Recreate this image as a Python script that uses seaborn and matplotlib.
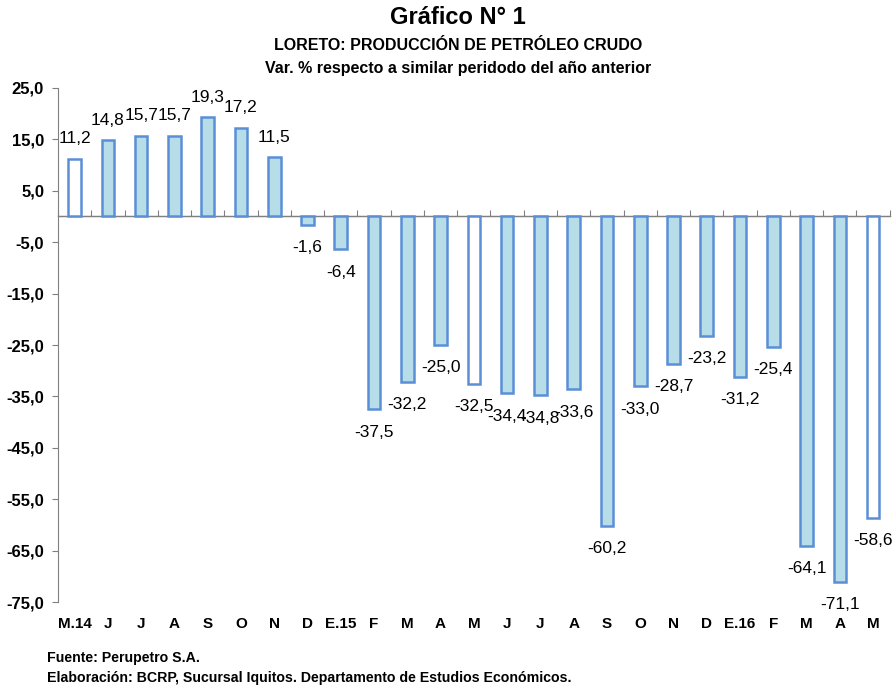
import matplotlib
matplotlib.use('Agg')
import matplotlib.pyplot as plt
import numpy as np
import pandas as pd
import seaborn as sns

# datos
meses = ['M.14', 'J', 'J', 'A', 'S', 'O', 'N', 'D', 'E.15', 'F', 'M', 'A', 'M',
         'J', 'J', 'A', 'S', 'O', 'N', 'D', 'E.16', 'F', 'M', 'A', 'M']
variacion = [11.2, 14.8, 15.7, 15.7, 19.3, 17.2, 11.5, -1.6, -6.4, -37.5, -32.2,
             -25.0, -32.5, -34.4, -34.8, -33.6, -60.2, -33.0, -28.7, -23.2,
             -31.2, -25.4, -64.1, -71.1, -58.6]
# meses de mayo resaltados sin relleno
resaltado = [True, False, False, False, False, False, False, False, False, False,
             False, False, True, False, False, False, False, False, False, False,
             False, False, False, False, True]

titulo = 'Gráfico N° 1'
subtitulo = 'LORETO: PRODUCCIÓN DE PETRÓLEO CRUDO'
subtitulo2 = 'Var. % respecto a similar peridodo del año anterior'
fuente = 'Fuente: Perupetro S.A.'
elaboracion = 'Elaboración: BCRP, Sucursal Iquitos. Departamento de Estudios Económicos.'

sns.set_style('white')
plt.rcParams['font.family'] = ['Liberation Sans Narrow', 'Liberation Sans', 'DejaVu Sans']
plt.rcParams['text.color'] = 'black'
plt.rcParams['xtick.labelcolor'] = 'black'
plt.rcParams['ytick.labelcolor'] = 'black'

df = pd.DataFrame({'pos': range(len(meses)), 'mes': meses, 'var': variacion,
                   'tipo': ['blanco' if r else 'celeste' for r in resaltado]})

fig = plt.figure(figsize=(8.96, 6.9), dpi=100)
ax = fig.add_axes([0.0647, 0.1275, 0.9283, 0.745])

sns.barplot(data=df, x='pos', y='var', hue='tipo', dodge=False, legend=False,
            palette={'blanco': 'white', 'celeste': '#B7DDE8'}, saturation=1,
            edgecolor='#5A8FD8', linewidth=1.8, width=0.38, ax=ax)

ax.set_xlim(-0.5, len(meses) - 0.5)
ax.set_ylim(-75, 25)
yt = np.arange(-75, 26, 10)
ax.set_yticks(yt)
ax.set_yticklabels([f'{v:.1f}'.replace('.', ',') for v in yt],
                   fontsize=12, fontweight='bold')
ax.set_xticks(range(len(meses)))
ax.set_xticklabels(meses, fontsize=11, fontweight='bold')
ax.tick_params(axis='x', length=0, pad=11)
ax.tick_params(axis='y', length=4, direction='out', color='#808080', left=True, pad=6)
ax.set_xlabel('')
ax.set_ylabel('')
for s in ['top', 'right', 'bottom']:
    ax.spines[s].set_visible(False)
ax.spines['left'].set_color('#808080')

# eje horizontal en cero con marcas entre meses
sec = ax.secondary_xaxis(0.75)
sec.set_xticks(np.arange(-0.5, len(meses), 1.0))
sec.set_xticklabels([])
sec.tick_params(length=4, color='#808080', direction='out', width=0.8)
for s in ['top', 'bottom']:
    sec.spines[s].set_visible(True)
    sec.spines[s].set_color('#808080')
    sec.spines[s].set_linewidth(0.9)

for i, v in enumerate(variacion):
    off = 14.5 if v > 0 else -16.5
    ax.annotate(f'{v:.1f}'.replace('.', ','), (i, v), xytext=(0, off),
                textcoords='offset points', ha='center', va='center', fontsize=12.5)

fig.text(0.511, 0.975, titulo, ha='center', va='center', fontsize=17, fontweight='bold',
         family=['Liberation Sans', 'DejaVu Sans'])
fig.text(0.511, 0.934, subtitulo, ha='center', va='center', fontsize=11.5, fontweight='bold')
fig.text(0.511, 0.901, subtitulo2, ha='center', va='center', fontsize=11.5, fontweight='bold')
fig.text(0.053, 0.047, fuente, ha='left', va='center', fontsize=10.2, fontweight='bold')
fig.text(0.053, 0.017, elaboracion, ha='left', va='center', fontsize=10.2, fontweight='bold')

fig.savefig('out.png', dpi=100)
